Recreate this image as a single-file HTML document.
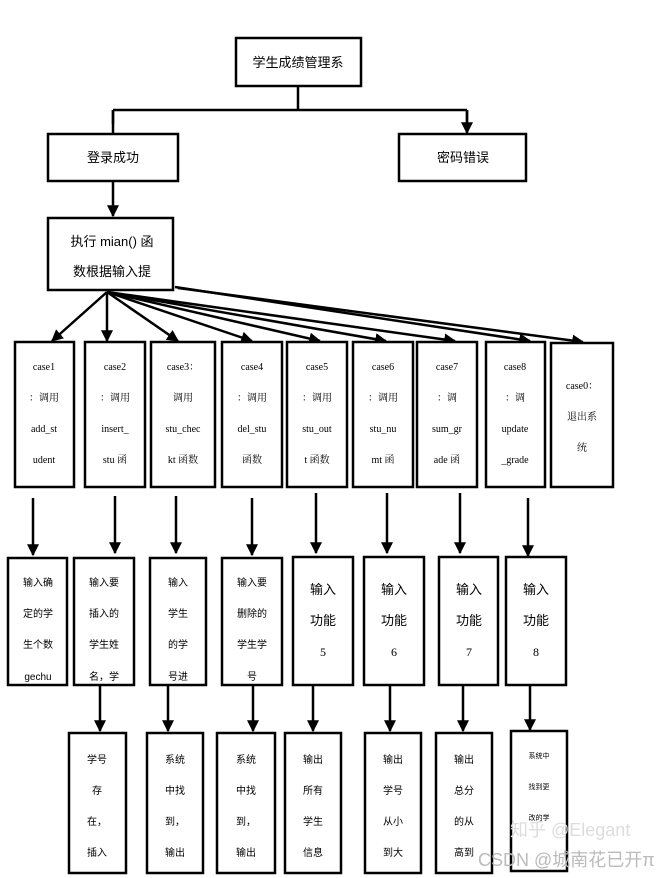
<!DOCTYPE html>
<html><head><meta charset="utf-8"><style>
html,body{margin:0;padding:0;background:#fff;}
svg{display:block;}
.b{fill:#fff;stroke:#000;stroke-width:2.5;}
.l{stroke:#000;stroke-width:2.5;fill:none;}
.s{font-family:"Liberation Serif","Noto Serif CJK SC",serif;font-size:10px;text-anchor:middle;}
.m{font-family:"Liberation Sans","Noto Sans CJK SC",sans-serif;font-size:13px;text-anchor:middle;}
.t{font-family:"Liberation Sans","Noto Sans CJK SC",sans-serif;font-size:10px;text-anchor:middle;}
</style></head><body>
<svg width="657" height="878" viewBox="0 0 657 878" xmlns="http://www.w3.org/2000/svg">
<defs><marker id="a" markerWidth="8" markerHeight="8" refX="6" refY="4" orient="auto" markerUnits="userSpaceOnUse" viewBox="0 0 8 8"><path d="M0,0 L8,4 L0,8 z"/></marker>
<marker id="A" viewBox="0 0 10 10" refX="9" refY="5" markerWidth="12" markerHeight="12" orient="auto" markerUnits="userSpaceOnUse"><path d="M0,0 L10,5 L0,10 z"/></marker></defs>

<rect class="b" x="236" y="38" width="125" height="48"/>
<text class="m" x="298" y="67">学生成绩管理系</text>
<path class="l" d="M298,86 V110 M113,110 H467 M113,110 V124 M467,110 V124"/>
<path class="l" d="M113,110 V133 M467,110 V133" marker-end="url(#A)"/>
<rect class="b" x="48" y="134" width="130" height="47"/>
<text class="m" x="113" y="162">登录成功</text>
<rect class="b" x="399" y="134" width="127" height="47"/>
<text class="m" x="463" y="162">密码错误</text>
<path class="l" d="M113,181 V216" marker-end="url(#A)"/>
<rect class="b" x="48" y="218" width="125" height="72"/>
<text class="m" x="112" y="246">执行 mian()  函</text>
<text class="m" x="112" y="276">数根据输入提</text>

<g class="l">
<path d="M107,292 L52,341" marker-end="url(#A)"/>
<path d="M107,292 V341" marker-end="url(#A)"/>
<path d="M107,292 L178,341" marker-end="url(#A)"/>
<path d="M107,292 L252,341" marker-end="url(#A)"/>
<path d="M107,292 L320,341" marker-end="url(#A)"/>
<path d="M107,292 L386,341" marker-end="url(#A)"/>
<path d="M107,292 L455,341" marker-end="url(#A)"/>
<path d="M175,287 L530,341" marker-end="url(#A)"/>
<path d="M178,288 L583,342" marker-end="url(#A)"/>
</g>

<rect class="b" x="15" y="342" width="59" height="145"/>
<text class="s" x="44" y="370">case1</text><text class="s" x="44" y="401">：调用</text><text class="s" x="44" y="432">add_st</text><text class="s" x="44" y="463">udent</text>
<rect class="b" x="85" y="342" width="60" height="145"/>
<text class="s" x="115" y="370">case2</text><text class="s" x="115" y="401">：调用</text><text class="s" x="115" y="432">insert_</text><text class="s" x="115" y="463">stu 函</text>
<rect class="b" x="151" y="342" width="64" height="145"/>
<text class="s" x="183" y="370">case3：</text><text class="s" x="183" y="401">调用</text><text class="s" x="183" y="432">stu_chec</text><text class="s" x="183" y="463">kt 函数</text>
<rect class="b" x="222" y="342" width="60" height="145"/>
<text class="s" x="252" y="370">case4</text><text class="s" x="252" y="401">：调用</text><text class="s" x="252" y="432">del_stu</text><text class="s" x="252" y="463">函数</text>
<rect class="b" x="287" y="342" width="60" height="145"/>
<text class="s" x="317" y="370">case5</text><text class="s" x="317" y="401">：调用</text><text class="s" x="317" y="432">stu_out</text><text class="s" x="317" y="463">t 函数</text>
<rect class="b" x="353" y="342" width="60" height="145"/>
<text class="s" x="383" y="370">case6</text><text class="s" x="383" y="401">：调用</text><text class="s" x="383" y="432">stu_nu</text><text class="s" x="383" y="463">mt 函</text>
<rect class="b" x="417" y="342" width="60" height="145"/>
<text class="s" x="447" y="370">case7</text><text class="s" x="447" y="401">：调</text><text class="s" x="447" y="432">sum_gr</text><text class="s" x="447" y="463">ade 函</text>
<rect class="b" x="486" y="342" width="59" height="145"/>
<text class="s" x="515" y="370">case8</text><text class="s" x="515" y="401">：调</text><text class="s" x="515" y="432">update</text><text class="s" x="515" y="463">_grade</text>
<rect class="b" x="551" y="343" width="62" height="144"/>
<text class="s" x="582" y="389">case0：</text><text class="s" x="582" y="420">退出系</text><text class="s" x="582" y="451">统</text>

<g class="l">
<path d="M33,498 V555" marker-end="url(#A)"/>
<path d="M115,496 V553" marker-end="url(#A)"/>
<path d="M176,496 V553" marker-end="url(#A)"/>
<path d="M252,498 V555" marker-end="url(#A)"/>
<path d="M316,493 V553" marker-end="url(#A)"/>
<path d="M387,493 V553" marker-end="url(#A)"/>
<path d="M460,493 V553" marker-end="url(#A)"/>
<path d="M528,498 V556" marker-end="url(#A)"/>
</g>

<rect class="b" x="8" y="558" width="59" height="127"/>
<text class="t" x="38" y="586">输入确</text><text class="t" x="38" y="617">定的学</text><text class="t" x="38" y="648">生个数</text><text class="t" x="38" y="680">gechu</text>
<rect class="b" x="74" y="558" width="60" height="127"/>
<text class="t" x="104" y="586">输入要</text><text class="t" x="104" y="617">插入的</text><text class="t" x="104" y="648">学生姓</text><text class="t" x="104" y="680">名，学</text>
<rect class="b" x="150" y="558" width="56" height="127"/>
<text class="t" x="178" y="586">输入</text><text class="t" x="178" y="617">学生</text><text class="t" x="178" y="648">的学</text><text class="t" x="178" y="680">号进</text>
<rect class="b" x="222" y="558" width="60" height="127"/>
<text class="t" x="252" y="586">输入要</text><text class="t" x="252" y="617">删除的</text><text class="t" x="252" y="648">学生学</text><text class="t" x="252" y="680">号</text>
<rect class="b" x="293" y="557" width="60" height="128"/>
<text class="m" x="323" y="594">输入</text><text class="m" x="323" y="625">功能</text><text class="s" style="font-size:12px" x="323" y="656">5</text>
<rect class="b" x="364" y="557" width="60" height="128"/>
<text class="m" x="394" y="594">输入</text><text class="m" x="394" y="625">功能</text><text class="s" style="font-size:12px" x="394" y="656">6</text>
<rect class="b" x="439" y="557" width="59" height="128"/>
<text class="m" x="469" y="594">输入</text><text class="m" x="469" y="625">功能</text><text class="s" style="font-size:12px" x="469" y="656">7</text>
<rect class="b" x="506" y="557" width="60" height="128"/>
<text class="m" x="536" y="594">输入</text><text class="m" x="536" y="625">功能</text><text class="s" style="font-size:12px" x="536" y="656">8</text>

<g class="l">
<path d="M100,685 V731" marker-end="url(#A)"/>
<path d="M168,685 V731" marker-end="url(#A)"/>
<path d="M253,685 V731" marker-end="url(#A)"/>
<path d="M313,685 V731" marker-end="url(#A)"/>
<path d="M390,685 V731" marker-end="url(#A)"/>
<path d="M463,685 V731" marker-end="url(#A)"/>
<path d="M530,685 V730" marker-end="url(#A)"/>
</g>

<rect class="b" x="69" y="733" width="57" height="140"/>
<text class="t" x="97" y="763">学号</text><text class="t" x="97" y="794">存</text><text class="t" x="97" y="825">在，</text><text class="t" x="97" y="856">插入</text>
<rect class="b" x="147" y="733" width="56" height="140"/>
<text class="t" x="175" y="763">系统</text><text class="t" x="175" y="794">中找</text><text class="t" x="175" y="825">到，</text><text class="t" x="175" y="856">输出</text>
<rect class="b" x="217" y="733" width="58" height="140"/>
<text class="t" x="246" y="763">系统</text><text class="t" x="246" y="794">中找</text><text class="t" x="246" y="825">到，</text><text class="t" x="246" y="856">输出</text>
<rect class="b" x="285" y="733" width="56" height="140"/>
<text class="t" x="313" y="763">输出</text><text class="t" x="313" y="794">所有</text><text class="t" x="313" y="825">学生</text><text class="t" x="313" y="856">信息</text>
<rect class="b" x="365" y="733" width="56" height="140"/>
<text class="t" x="393" y="763">输出</text><text class="t" x="393" y="794">学号</text><text class="t" x="393" y="825">从小</text><text class="t" x="393" y="856">到大</text>
<rect class="b" x="436" y="733" width="56" height="140"/>
<text class="t" x="464" y="763">输出</text><text class="t" x="464" y="794">总分</text><text class="t" x="464" y="825">的从</text><text class="t" x="464" y="856">高到</text>
<rect class="b" x="511" y="731" width="56" height="140"/>
<text class="t" style="font-size:7px" x="539" y="758">系统中</text><text class="t" style="font-size:7px" x="539" y="789">找到更</text><text class="t" style="font-size:7px" x="539" y="820">改的学</text>

<text x="510" y="836" style="font-family:'Liberation Sans','Noto Sans CJK SC',sans-serif;font-size:18px;fill:#ddd;">知乎 @Elegant</text>
<text x="478" y="866" style="font-family:'Liberation Sans','Noto Sans CJK SC',sans-serif;font-size:18px;fill:#bbb;">CSDN @城南花已开π</text>
</svg>
</body></html>
